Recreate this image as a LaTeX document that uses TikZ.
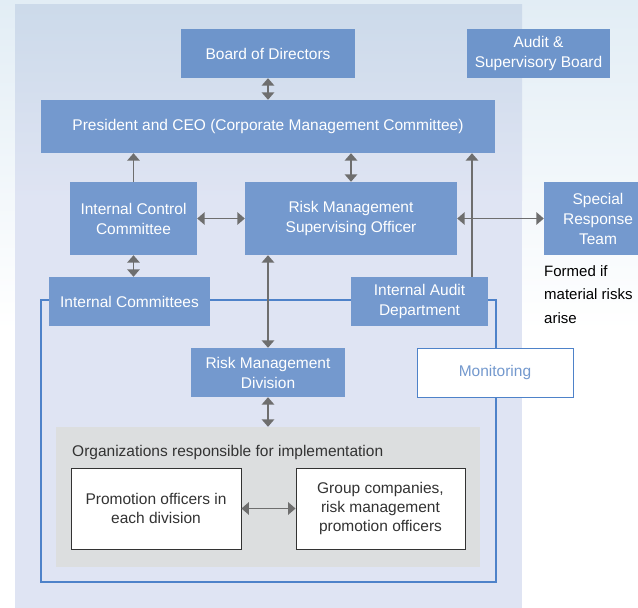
\documentclass[tikz,border=0pt]{standalone}
\usepackage{fontspec}
\setmainfont{Liberation Sans}
\usetikzlibrary{arrows.meta,calc}

\definecolor{boxblue}{HTML}{7499CE}
\definecolor{boxblueD}{HTML}{6E95CB}
\definecolor{panelTop}{HTML}{CCDAEA}
\definecolor{panelBot}{HTML}{DFE4F3}
\definecolor{outerTop}{HTML}{E2EDF5}
\definecolor{frameblue}{HTML}{4E82C9}
\definecolor{arrowgray}{HTML}{6E6E6E}
\definecolor{implgray}{HTML}{DCDEDF}
\definecolor{textdark}{HTML}{333333}

\tikzset{
  orgbox/.style={fill=boxblue, draw=none, text=white, align=center,
    font=\fontsize{15.5}{20}\selectfont, inner sep=0pt},
  whitebox/.style={fill=white, draw=textdark, line width=0.9pt, text=textdark,
    align=center, font=\fontsize{15.5}{18.7}\selectfont, inner sep=0pt},
  arr/.style={draw=arrowgray, line width=1.6pt,
    -{Triangle[width=12.5pt,length=7.5pt]}},
  biarr/.style={draw=arrowgray, line width=1.6pt,
    {Triangle[width=12.5pt,length=7.5pt]}-{Triangle[width=12.5pt,length=7.5pt]}},
}

\begin{document}
\begin{tikzpicture}[x=1pt,y=-1pt]
\useasboundingbox (0,0) rectangle (638,608);

% backdrop
\fill[white] (0,0) rectangle (638,608);
\shade[top color=outerTop, bottom color=white] (0,0) rectangle (638,330);
% main panel
\shade[top color=panelTop, bottom color=panelBot] (15,4) rectangle (522,200);
\fill[panelBot] (15,200) rectangle (522,608);

% scope of implementation / monitoring frame
\draw[frameblue, line width=2pt] (41,300) rectangle (496,582);

% top level
\node[orgbox, fill=boxblueD, minimum width=174pt, minimum height=49pt] (board) at (268,53.5) {Board of Directors};
\node[orgbox, fill=boxblueD, minimum width=143pt, minimum height=49pt] (asb) at (538.5,53.5) {Audit \&\\Supervisory Board};
\node[orgbox, minimum width=454pt, minimum height=53pt] (ceo) at (268,126.5) {President and CEO (Corporate Management Committee)};

% second level
\node[orgbox, minimum width=127pt, minimum height=73pt] (icc) at (133.5,218.5) {Internal Control\\Committee};
\node[orgbox, minimum width=212pt, minimum height=73pt] (rmso) at (351,218.5) {Risk Management\\Supervising Officer};
\node[orgbox, minimum width=108pt, minimum height=73pt] (srt) at (598,218.5) {Special\\Response\\Team};
\node[anchor=north west, align=left, text=black, inner sep=0pt,
  font=\fontsize{15}{23.5}\selectfont] (formed) at (544,265) {Formed if\\material risks\\arise};

% third level
\node[orgbox, minimum width=161pt, minimum height=49pt] (ic) at (129.5,301.5) {Internal Committees};
\node[orgbox, minimum width=137pt, minimum height=49pt] (iad) at (419.5,301.5) {Internal Audit\\Department};
\node[orgbox, minimum width=154pt, minimum height=49pt] (rmd) at (268,372.5) {Risk Management\\Division};
\node[fill=white, draw=frameblue, line width=1pt, text=boxblue,
  font=\fontsize{15.5}{20}\selectfont, minimum width=156pt, minimum height=49pt] (mon) at (495,372.5) {Monitoring};

% implementing organizations
\node[fill=implgray, minimum width=424pt, minimum height=140pt, inner sep=0pt] (impl) at (268,497) {};
\node[anchor=base west, text=textdark, inner sep=0pt,
  font=\fontsize{15.5}{20}\selectfont] (impltitle) at (72,456) {Organizations responsible for implementation};
\node[whitebox, minimum width=170pt, minimum height=81pt] (po) at (156,508.5) {Promotion officers in\\each division};
\node[whitebox, minimum width=169pt, minimum height=81pt] (gc) at (380.5,508.5) {Group companies,\\risk management\\promotion officers};

% connectors
\draw[biarr] (board.south) -- (ceo.north);
\draw[arr] (icc.north) -- (icc.north |- ceo.south);
\draw[biarr] (rmso.north) -- (rmso.north |- ceo.south);
\draw[arr] ([xshift=52.5pt]iad.north) -- ([xshift=52.5pt]iad.north |- ceo.south);
\draw[biarr] (icc.east) -- (rmso.west);
\draw[biarr] (rmso.east) -- (srt.west);
\draw[biarr] (icc.south) -- (icc.south |- ic.north);
\draw[biarr] (rmd.north) -- (rmd.north |- rmso.south);
\draw[biarr] (rmd.south) -- (impl.north);
\draw[biarr] (po.east) -- (gc.west);
\end{tikzpicture}
\end{document}
